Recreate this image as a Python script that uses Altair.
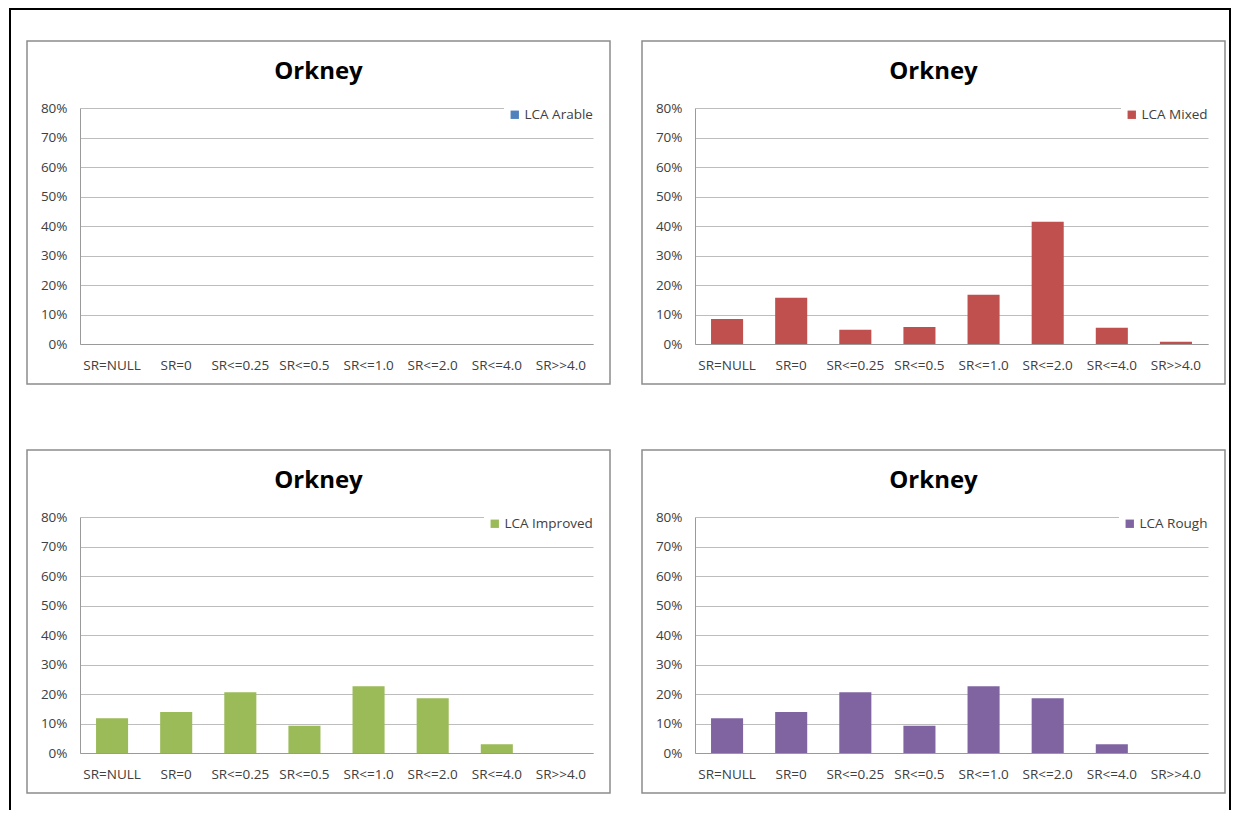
import altair as alt
import pandas as pd

categories = ["SR=NULL", "SR=0", "SR<=0.25", "SR<=0.5", "SR<=1.0", "SR<=2.0", "SR<=4.0", "SR>>4.0"]
arable = [0, 0, 0, 0, 0, 0, 0, 0]
mixed = [0.085, 0.157, 0.048, 0.058, 0.167, 0.414, 0.055, 0.008]
improved = [0.118, 0.139, 0.206, 0.092, 0.226, 0.186, 0.030, 0.0]
rough = [0.118, 0.139, 0.206, 0.092, 0.226, 0.186, 0.030, 0.0]
series_names = ["LCA Arable", "LCA Mixed", "LCA Improved", "LCA Rough"]
series_colors = ["#4F81BD", "#C0504D", "#9BBB59", "#8064A2"]
y_ticks = [0, 0.1, 0.2, 0.3, 0.4, 0.5, 0.6, 0.7, 0.8]
title_text = "Orkney"

W, H = 513, 236
FONT = "Open Sans"
TXT = "#404040"


def panel(name, values, color, outer=False):
    df = pd.DataFrame({"cat": categories, "val": values, "series": name})
    bars = alt.Chart(df).mark_bar().encode(
        x=alt.X("cat:N", sort=categories, title=None,
                scale=alt.Scale(paddingInner=0.5, paddingOuter=0.25),
                axis=alt.Axis(labelAngle=0, ticks=False, domain=True, domainColor="#9a9a9a",
                              labelPadding=14, grid=False, labelFontSize=13.5, labelColor=TXT,
                              labelFont=FONT)),
        y=alt.Y("val:Q", title=None, scale=alt.Scale(domain=[0, 0.8], nice=False),
                axis=alt.Axis(format=".0%", values=y_ticks, ticks=False, domain=True,
                              domainColor="#9a9a9a", grid=True, gridColor="#bdbdbd",
                              labelPadding=13, labelFontSize=13.5, labelColor=TXT, labelFont=FONT)),
        color=alt.Color("series:N", scale=alt.Scale(domain=[name], range=[color]),
                        legend=alt.Legend(title=None, orient="top-right", offset=-4, padding=4,
                                          fillColor="white", symbolType="square", symbolSize=70,
                                          symbolStrokeWidth=0, labelOffset=3,
                                          labelFontSize=13.5, labelFont=FONT, labelColor=TXT)),
    )
    one = alt.Chart(alt.Data(values=[{"k": 1}]))
    frame = one.mark_rect(
        filled=False, stroke="#8c8c8c", strokeWidth=1.5
    ).encode(x=alt.value(-53), x2=alt.value(W + 17), y=alt.value(-67), y2=alt.value(H + 40))
    title = one.mark_text(
        text=title_text, font=FONT, fontSize=24, fontWeight="bold", color="black",
        align="center", baseline="middle"
    ).encode(x=alt.value((W - 36) / 2), y=alt.value(-36))
    layers = [frame, bars, title]
    if outer:
        left = one.mark_rule(color="black", strokeWidth=2).encode(
            x=alt.value(-70), y=alt.value(-99), y2=alt.value(702))
        top = one.mark_rule(color="black", strokeWidth=2).encode(
            x=alt.value(-71), x2=alt.value(1151), y=alt.value(-99))
        right = one.mark_rule(color="black", strokeWidth=2).encode(
            x=alt.value(1150), y=alt.value(-99), y2=alt.value(702))
        layers = [left, top, right] + layers
    return alt.layer(*layers).properties(width=W, height=H)


panels = [
    panel(series_names[0], arable, series_colors[0], outer=True),
    panel(series_names[1], mixed, series_colors[1]),
    panel(series_names[2], improved, series_colors[2]),
    panel(series_names[3], rough, series_colors[3]),
]

chart = alt.concat(*panels, columns=2, spacing={"row": 173, "column": 102}, bounds="flush").properties(
    padding=0
).configure_view(strokeWidth=0).resolve_scale(color="independent")

chart.save("out.html", embed_options={"renderer": "svg", "actions": False})
